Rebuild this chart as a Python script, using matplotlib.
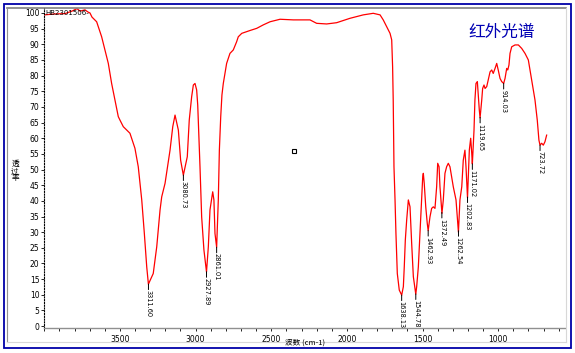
import numpy as np
import matplotlib
matplotlib.use('Agg')
import matplotlib.pyplot as plt
from matplotlib.patches import Rectangle
from matplotlib.lines import Line2D

plt.rcParams['font.family'] = ['DejaVu Sans', 'Noto Sans CJK SC']

# spectrum: wavenumber (cm-1) / transmittance (%)
wavenumber = [4000, 3929, 3863, 3817, 3784, 3764, 3731, 3711, 3698, 3685,
              3654, 3621, 3599, 3577, 3555, 3533, 3511, 3500, 3478, 3434,
              3401, 3379, 3356, 3339, 3323, 3312, 3280, 3257, 3235, 3224,
              3202, 3169, 3151, 3136, 3114, 3099, 3081, 3055, 3042, 3026,
              3015, 3004, 2993, 2986, 2971, 2960, 2945, 2928, 2916, 2905,
              2887, 2879, 2872, 2861, 2850, 2843, 2834, 2826, 2817, 2795,
              2773, 2751, 2729, 2718, 2695, 2641, 2596, 2553, 2508, 2442,
              2354, 2244, 2200, 2134, 2068, 1980, 1892, 1826, 1781, 1760,
              1737, 1715, 1704, 1698, 1694, 1689, 1682, 1676, 1667, 1654,
              1638, 1627, 1621, 1614, 1605, 1594, 1583, 1572, 1561, 1545,
              1539, 1528, 1517, 1506, 1499, 1495, 1489, 1479, 1469, 1463,
              1451, 1440, 1429, 1418, 1407, 1400, 1391, 1385, 1372, 1363,
              1352, 1341, 1330, 1319, 1297, 1279, 1263, 1253, 1241, 1231,
              1220, 1213, 1203, 1198, 1191, 1182, 1175, 1171, 1160, 1154,
              1147, 1138, 1132, 1125, 1120, 1109, 1103, 1094, 1087, 1076,
              1066, 1054, 1043, 1033, 1021, 1010, 1000, 988, 977, 964,
              955, 944, 937, 929, 922, 911, 889, 867, 845, 823,
              801, 779, 757, 742, 731, 724, 713, 702, 691, 680]
transmittance = [99.4, 99.7, 99.8, 100.6, 101.4, 100.6, 101.0, 100.3, 100.0, 98.7,
                 97.2, 92.4, 88.2, 83.9, 77.5, 72.2, 66.9, 65.8, 63.7, 61.6,
                 56.8, 50.9, 40.3, 29.7, 18.9, 13.4, 16.8, 25.3, 37.1, 41.3,
                 45.6, 56.2, 63.7, 67.4, 62.6, 53.0, 48.2, 54.1, 65.8, 73.3,
                 77.0, 77.5, 75.4, 70.6, 50.9, 34.9, 24.3, 17.3, 25.3, 37.1,
                 42.9, 40.3, 29.6, 25.2, 40.3, 56.2, 66.9, 73.8, 77.5, 83.9,
                 87.1, 88.2, 90.8, 92.4, 93.5, 94.4, 95.1, 96.2, 97.2, 98.0,
                 97.8, 97.8, 96.7, 96.5, 96.9, 98.3, 99.4, 99.9, 99.4, 97.8,
                 95.6, 93.5, 91.4, 82.8, 72.2, 50.9, 40.3, 29.6, 16.8, 11.5,
                 9.9, 12.6, 18.9, 27.5, 33.9, 40.3, 38.1, 26.4, 15.8, 10.2,
                 12.6, 18.9, 29.6, 40.3, 47.7, 48.8, 45.6, 38.1, 32.8, 30.5,
                 34.9, 37.6, 38.1, 37.6, 44.5, 52.0, 50.9, 44.5, 36.0, 40.3,
                 48.8, 50.9, 52.0, 50.9, 44.5, 40.3, 30.0, 40.3, 44.5, 53.0,
                 56.2, 50.9, 41.0, 47.7, 56.2, 60.0, 55.2, 51.8, 62.6, 72.2,
                 77.5, 78.1, 73.8, 69.0, 66.5, 72.2, 75.9, 77.0, 75.9, 76.5,
                 78.6, 81.2, 81.8, 80.7, 82.3, 83.9, 81.8, 79.1, 78.1, 77.5,
                 79.1, 82.3, 81.8, 83.4, 87.1, 89.2, 89.8, 89.8, 88.7, 87.1,
                 85.0, 78.6, 72.2, 65.8, 59.4, 57.8, 58.4, 57.8, 58.9, 61.0]

# picked peaks: where they sit on the curve, and the text shown under them
peak_pos    = [3311.60, 3080.73, 2927.89, 2861.01, 1638.13, 1544.78, 1462.93,
               1372.49, 1262.54, 1202.83, 1171.02, 1119.65, 964.0, 723.72]
peak_labels = ['3311.60', '3080.73', '2927.89', '2861.01', '1638.13', '1544.78',
               '1462.93', '1372.49', '1262.54', '1202.83', '1171.02', '1119.65',
               '914.03', '723.72']

x_ticks       = [3500, 3000, 2500, 2000, 1500, 1000]
y_ticks       = list(range(0, 101, 5))
cursor_wn     = 2350
cursor_t      = 56
sample_name   = 'HB2301506-'
title         = '红外光谱'
x_label       = '波数 (cm-1)'
y_label       = '透\n过\n率'

W, H = 575, 353
fig = plt.figure(figsize=(W / 100, H / 100), dpi=100)

# window frame: blue outer border and sunken inner panel
fig.patches.append(Rectangle((4 / W, 1 - 348 / H), 567 / W, 344 / H,
                             transform=fig.transFigure, fill=False,
                             edgecolor='#0000a8', lw=1.3))
fig.lines.append(Line2D([7 / W, 566 / W], [1 - 8 / H, 1 - 8 / H],
                        transform=fig.transFigure, color='#808080', lw=1.2))
fig.lines.append(Line2D([7 / W, 7 / W], [1 - 8 / H, 1 - 342 / H],
                        transform=fig.transFigure, color='#909090', lw=0.8))
fig.lines.append(Line2D([566 / W, 566 / W], [1 - 8 / H, 1 - 342 / H],
                        transform=fig.transFigure, color='#d8d8d8', lw=0.8))
fig.lines.append(Line2D([7 / W, 566 / W], [1 - 342 / H, 1 - 342 / H],
                        transform=fig.transFigure, color='#d8d8d8', lw=0.8))

ax = fig.add_axes([44.3 / W, 25 / H, 520.5 / W, 319.7 / H])
ax.set_xlim(4000, 560)
ax.set_ylim(-0.6, 101.5)

ax.plot(wavenumber, transmittance, color='#ff0000', lw=0.9)

peak_t = np.interp(peak_pos, wavenumber[::-1], transmittance[::-1])
for wn, t, lab in zip(peak_pos, peak_t, peak_labels):
    ax.annotate('', xy=(wn, t), xytext=(0, -4), textcoords='offset points',
                arrowprops=dict(arrowstyle='-', color='black', lw=0.7,
                                shrinkA=0, shrinkB=0))
    ax.annotate(lab, xy=(wn, t), xytext=(0, -4.5), textcoords='offset points',
                rotation=270, ha='center', va='top', fontsize=4.8)

ax.plot([cursor_wn], [cursor_t], marker='s', ms=3.5, mfc='none',
        mec='black', mew=0.8)

for side in ['top', 'right']:
    ax.spines[side].set_visible(False)
ax.spines['left'].set_linestyle((0, (1, 1.5)))
ax.spines['left'].set_linewidth(0.8)
ax.spines['bottom'].set_color('#909090')
ax.spines['bottom'].set_linewidth(1.0)

ax.set_xticks(x_ticks)
ax.set_xticks(np.arange(4000, 559, -100), minor=True)
ax.set_yticks(y_ticks)
ax.tick_params(axis='both', which='both', labelsize=5.5, length=2, width=0.6,
               pad=1.5, colors='black')
ax.tick_params(axis='x', which='major', pad=3)

ax.text(0.003, 0.985, sample_name, transform=ax.transAxes, fontsize=5,
        va='center', ha='left')

fig.text(502 / W, 1 - 32.5 / H, title, color='#0000b4', fontsize=12,
         ha='center', va='center', family=['Noto Sans CJK SC', 'DejaVu Sans'])
fig.text(305 / W, 1 - 343 / H, x_label, fontsize=5.5, ha='center',
         va='center', family=['Noto Sans CJK SC', 'DejaVu Sans'])
fig.text(15 / W, 1 - 171 / H, y_label, fontsize=5.5, ha='center',
         va='center', linespacing=0.9,
         family=['Noto Sans CJK SC', 'DejaVu Sans'])

fig.savefig('out.png', dpi=100)
